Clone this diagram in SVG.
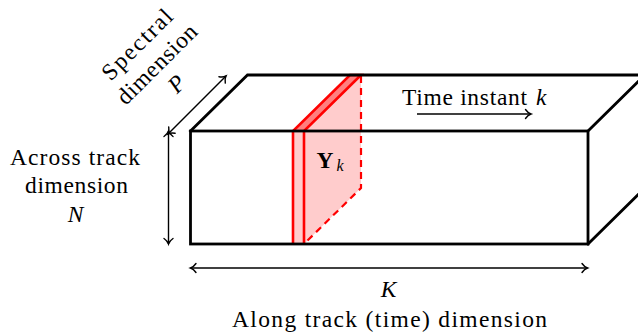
<svg xmlns="http://www.w3.org/2000/svg" width="638" height="335" viewBox="0 0 638 335">
<style>
  text { font-family: 'Liberation Serif', 'Times New Roman', Times, 'DejaVu Serif', serif; font-size: 23.5px; fill: #000; }
  .it { font-style: italic; }
  .sub { font-size: 16px; font-style: italic; }
  .bf { font-weight: bold; }
  .box { fill: none; stroke: #000; stroke-width: 2.8; stroke-linejoin: miter; stroke-linecap: square; }
  .arr { fill: none; stroke: #000; stroke-width: 1.4; }
  .red { fill: none; stroke: #ff0000; stroke-width: 2.6; stroke-linejoin: miter; }
  .dash { fill: none; stroke: #ff0000; stroke-width: 2.2; stroke-dasharray: 7 5; }
</style>
<defs>
  <marker id="tip" markerUnits="userSpaceOnUse" markerWidth="14" markerHeight="14" viewBox="-8 -7 10 14" refX="0" refY="0" orient="auto-start-reverse" overflow="visible">
    <path d="M -5.5 -4.5 C -3.5 -1.6, -1.5 -0.5, 0 0 C -1.5 0.5, -3.5 1.6, -5.5 4.5" fill="none" stroke="#000" stroke-width="1.4" stroke-linecap="round"/>
  </marker>
</defs>

<g id="slice">
  <polygon points="293,131 304,131 304,244 293,244" fill="#ffcccc"/>
  <polygon points="304,131 361,75 361,188 304,244" fill="#ffcccc"/>
  <polygon points="293,131 304,131 361,75 350,75" fill="#ff7f7f"/>
  <polyline class="red" points="293,244 293,131 350,75 361,75 304,131 304,244"/>
  <polyline class="dash" points="361,76 361,188 304,244"/>
</g>

<g id="cube">
  <rect class="box" x="190.5" y="131" width="397.5" height="113"/>
  <polyline class="box" points="190.5,131 247.5,75 660,75"/>
  <line class="box" x1="588" y1="131" x2="650" y2="70"/>
  <line class="box" x1="588" y1="244" x2="650" y2="183"/>
</g>

<g id="connectors">
  <line class="arr" x1="168" y1="134" x2="226" y2="76" marker-start="url(#tip)" marker-end="url(#tip)"/>
  <line class="arr" x1="168.5" y1="131" x2="168.5" y2="244" marker-start="url(#tip)" marker-end="url(#tip)"/>
  <line class="arr" x1="190.5" y1="268" x2="587.5" y2="268" marker-start="url(#tip)" marker-end="url(#tip)"/>
  <line class="arr" x1="417" y1="114" x2="531" y2="114" marker-end="url(#tip)"/>
</g>

<g id="label-spectral" transform="rotate(-45)">
  <text x="65.5" y="136" text-anchor="middle" textLength="90" lengthAdjust="spacing">Spectral</text>
  <text x="65.5" y="164" text-anchor="middle" textLength="103" lengthAdjust="spacing">dimension</text>
  <text class="it" x="65.5" y="192" text-anchor="middle">P</text>
</g>

<g id="label-across">
  <text x="75" y="165" text-anchor="middle" textLength="130" lengthAdjust="spacing">Across track</text>
  <text x="76.5" y="193" text-anchor="middle" textLength="103" lengthAdjust="spacing">dimension</text>
  <text class="it" x="75.5" y="221.5" text-anchor="middle">N</text>
</g>

<g id="label-time">
  <text x="402" y="105" textLength="125" lengthAdjust="spacing">Time instant</text>
  <text class="it" x="536" y="105">k</text>
</g>

<g id="label-Y">
  <text class="bf" x="316.5" y="168">Y</text>
  <text class="sub" x="336.5" y="170.5">k</text>
</g>

<g id="label-along">
  <text class="it" x="388.5" y="297" text-anchor="middle">K</text>
  <text x="389.5" y="327" text-anchor="middle" textLength="315" lengthAdjust="spacing">Along track (time) dimension</text>
</g>
</svg>
